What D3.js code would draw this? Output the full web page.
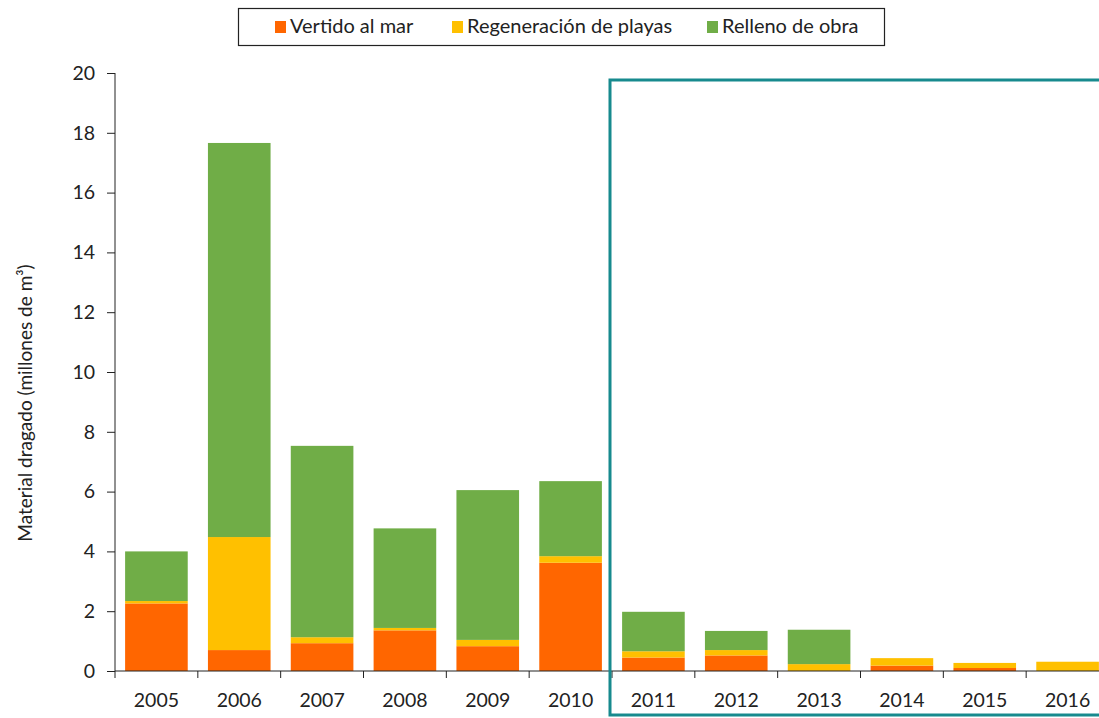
<!DOCTYPE html>
<html><head><meta charset="utf-8">
<script src="https://cdn.jsdelivr.net/npm/d3@7"></script>
<style>body{margin:0;background:#fff;} svg{display:block;} text{font-family:Lato,"Open Sans",sans-serif;fill:#222;}</style>
</head><body>
<svg id="c" width="1099" height="718"></svg>
<script>
const years = ["2005","2006","2007","2008","2009","2010","2011","2012","2013","2014","2015","2016"];
const vertido = [2.26,0.70,0.93,1.36,0.83,3.62,0.45,0.52,0.00,0.18,0.10,0.00];
const regeneracion = [0.08,3.78,0.20,0.08,0.21,0.22,0.21,0.18,0.23,0.25,0.17,0.31];
const relleno = [1.66,13.18,6.40,3.33,5.01,2.51,1.32,0.64,1.15,0.00,0.00,0.00];
const seriesNames = ["Vertido al mar","Regeneración de playas","Relleno de obra"];
const colors = ["#FF6600","#FFC000","#70AD47"];
const yTicks = [0,2,4,6,8,10,12,14,16,18,20];

const svg = d3.select("#c");
const x = d3.scaleBand().domain(years).range([115,1109]).padding(0);
const y = d3.scaleLinear().domain([0,20]).range([671,73]);

const rows = years.map((yr,i)=>({year:yr, v:vertido[i], r:regeneracion[i], o:relleno[i]}));
const stack = d3.stack().keys(["v","r","o"])(rows);

const barW = x.bandwidth()*0.756;
const off = (x.bandwidth()-barW)/2;
stack.forEach((layer,li)=>{
  svg.append("g").selectAll("rect").data(layer).join("rect")
    .attr("x",d=>x(d.data.year)+off)
    .attr("width",barW)
    .attr("y",d=>y(d[1]))
    .attr("height",d=>Math.max(0,y(d[0])-y(d[1])))
    .attr("fill",colors[li]);
});

// y axis
const yAxis = d3.axisLeft(y).tickValues(yTicks).tickSize(8).tickPadding(12).tickFormat(d3.format("d"));
const gy = svg.append("g").attr("transform","translate(115,0)").call(yAxis);
gy.select(".domain").attr("stroke","#222").attr("d","M0,"+y(20)+"V"+y(0));
gy.selectAll(".tick line").attr("stroke","#222");
gy.selectAll("text").attr("font-size",19.5).attr("font-family","Lato,'Open Sans',sans-serif").attr("fill","#222");

// x axis
const gx = svg.append("g");
gx.append("line").attr("x1",x.range()[0]).attr("x2",x.range()[1]).attr("y1",y(0)).attr("y2",y(0)).attr("stroke","#222");
const bounds = years.map(d=>x(d)).concat([x.range()[1]]);
gx.selectAll("line.t").data(bounds).join("line").attr("class","t")
  .attr("x1",d=>d).attr("x2",d=>d).attr("y1",y(0)).attr("y2",y(0)+7).attr("stroke","#222");
gx.selectAll("text").data(years).join("text")
  .attr("x",d=>x(d)+x.bandwidth()/2).attr("y",707)
  .attr("text-anchor","middle").attr("font-size",19.5).text(d=>d);

// y label
svg.append("text").attr("transform","translate(32,403) rotate(-90)")
  .attr("text-anchor","middle").attr("font-size",19).attr("fill","#333")
  .text("Material dragado (millones de m³)");

// highlight box
svg.append("rect").attr("x",x("2011")-2).attr("y",80).attr("width",600).attr("height",635)
  .attr("fill","none").attr("stroke","#178A8E").attr("stroke-width",3);

// legend
const lg = svg.append("g");
lg.append("rect").attr("x",238.5).attr("y",8.5).attr("width",646).attr("height",37)
  .attr("fill","#fff").attr("stroke","#222").attr("stroke-width",1.2);
const lx = [275,452,707];
seriesNames.forEach((n,i)=>{
  lg.append("rect").attr("x",lx[i]).attr("y",21).attr("width",11).attr("height",12).attr("fill",colors[i]);
  lg.append("text").attr("x",lx[i]+15).attr("y",33).attr("font-size",20).text(n);
});
</script>
</body></html>
